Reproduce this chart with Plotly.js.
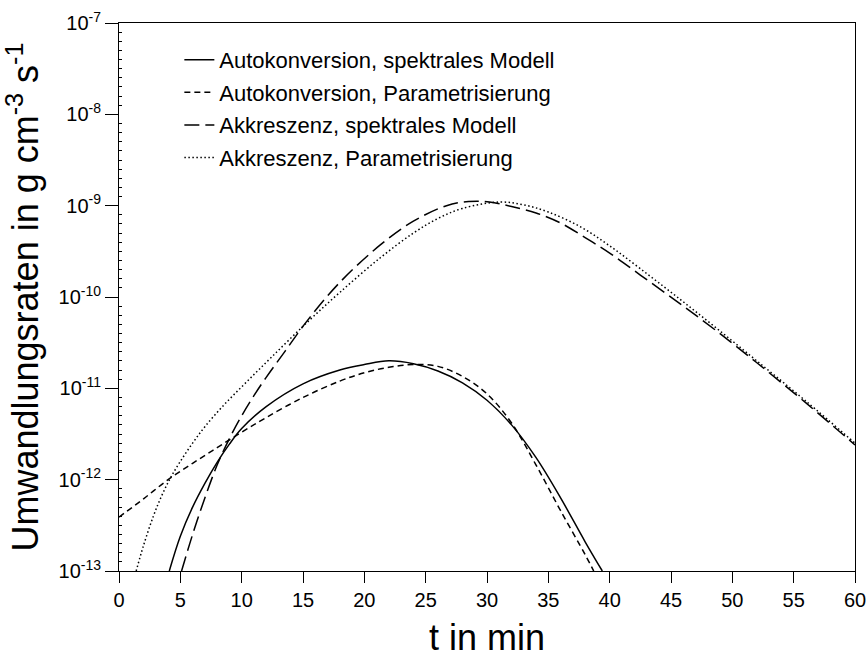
<!DOCTYPE html>
<html>
<head>
<meta charset="utf-8">
<script src="https://cdn.plot.ly/plotly-3.0.1.min.js"></script>
<style>html,body{margin:0;padding:0;background:#fff;}#chart{width:868px;height:664px;}</style>
</head>
<body>
<div id="chart"></div>
<script>
// Series names (legend labels)
const seriesNames = [
  "Autokonversion, spektrales Modell",
  "Autokonversion, Parametrisierung",
  "Akkreszenz, spektrales Modell",
  "Akkreszenz, Parametrisierung"
];

// Autokonversion, spektrales Modell (solid)
const autoSpecT = [4.1, 5, 6, 7, 8, 9, 10, 12, 15, 18, 20, 22, 24, 26, 28, 30, 32, 34, 36, 38, 39.4];
const autoSpecV = [1.0e-13, 2.40e-13, 5.01e-13, 9.12e-13, 1.55e-12, 2.45e-12, 3.63e-12, 6.31e-12, 1.12e-11, 1.585e-11, 1.82e-11, 2.0e-11, 1.86e-11, 1.55e-11, 1.15e-11, 7.41e-12, 3.98e-12, 1.74e-12, 6.31e-13, 2.09e-13, 1.0e-13];

// Autokonversion, Parametrisierung (short dash)
const autoParT = [0, 2, 4, 6, 8, 10, 12, 15, 18, 20, 22, 24, 26, 28, 30, 32, 34, 36, 38, 38.7];
const autoParV = [3.89e-13, 6.17e-13, 1.0e-12, 1.51e-12, 2.24e-12, 3.31e-12, 4.79e-12, 7.94e-12, 1.20e-11, 1.48e-11, 1.70e-11, 1.82e-11, 1.74e-11, 1.35e-11, 8.71e-12, 4.17e-12, 1.445e-12, 4.57e-13, 1.51e-13, 1.0e-13];

// Akkreszenz, spektrales Modell (long dash)
const akkSpecT = [5.1, 6, 7, 8, 9, 10, 11, 12, 13.5, 15.4, 18, 21.3, 24, 26.7, 28.5, 30.2, 32, 34, 36, 38, 40, 42.5, 45.5, 48.6, 52, 56, 60];
const akkSpecV = [1.0e-13, 2.51e-13, 6.31e-13, 1.445e-12, 2.82e-12, 5.01e-12, 8.32e-12, 1.318e-11, 2.51e-11, 5.62e-11, 1.445e-10, 3.715e-10, 6.76e-10, 1.0e-9, 1.11e-9, 1.10e-9, 9.77e-10, 8.32e-10, 6.46e-10, 4.47e-10, 3.02e-10, 1.74e-10, 8.91e-11, 4.365e-11, 1.905e-11, 6.92e-12, 2.40e-12];

// Akkreszenz, Parametrisierung (dotted)
const akkParT = [1.4, 2.0, 2.8, 3.5, 4.2, 5.0, 6.0, 7.0, 8.5, 10.4, 12.5, 15.4, 18, 21.3, 24, 26, 28, 31, 33, 35, 37.6, 40, 42.5, 45.5, 48.6, 52, 56, 60];
const akkParV = [1.0e-13, 1.905e-13, 3.98e-13, 6.76e-13, 1.047e-12, 1.585e-12, 2.51e-12, 3.80e-12, 6.46e-12, 1.175e-11, 2.24e-11, 5.37e-11, 1.122e-10, 2.69e-10, 5.01e-10, 7.24e-10, 9.33e-10, 1.096e-9, 1.02e-9, 8.51e-10, 5.89e-10, 3.63e-10, 2.04e-10, 1.0e-10, 4.68e-11, 1.995e-11, 7.24e-12, 2.51e-12];

// Axis ticks
const xTicks = [0, 5, 10, 15, 20, 25, 30, 35, 40, 45, 50, 55, 60];
const yTickVals = [1e-13, 1e-12, 1e-11, 1e-10, 1e-9, 1e-8, 1e-7];
const yTickText = ["10<sup>-13</sup>", "10<sup>-12</sup>", "10<sup>-11</sup>", "10<sup>-10</sup>", "10<sup>-9</sup>", "10<sup>-8</sup>", "10<sup>-7</sup>"];

const minorVals = [];
for (let k = 0; k <= 60; k++) { if (k % 10 !== 0) minorVals.push(Math.pow(10, -13 + k / 10)); }

const FONT = "'Liberation Sans', Arial, sans-serif";
function tr(x, y, name, dash, grp) {
  return {
    x: x, y: y, name: name, type: "scatter", mode: "lines",
    legendgroup: grp,
    line: {color: "#000", width: 1.5, dash: dash, shape: "spline", smoothing: 1}
  };
}

const data = [
  tr(autoSpecT, autoSpecV, seriesNames[0], "solid", "g1"),
  tr(autoParT, autoParV, seriesNames[1], "6px,4px", "g2"),
  tr(akkSpecT, akkSpecV, seriesNames[2], "15px,6px", "g3"),
  tr(akkParT, akkParV, seriesNames[3], "1.5px,2.5px", "g4")
];

const layout = {
  width: 868, height: 664,
  margin: {l: 119, r: 13, t: 23, b: 93},
  paper_bgcolor: "#fff", plot_bgcolor: "#fff",
  font: {family: FONT, color: "#000", size: 20},
  showlegend: true,
  legend: {
    x: 0.082, y: 0.971, xanchor: "left", yanchor: "top",
    bgcolor: "rgba(0,0,0,0)", borderwidth: 0,
    font: {family: FONT, size: 22, color: "#000"},
    tracegroupgap: 1
  },
  xaxis: {
    range: [0, 60], tickmode: "array", tickvals: xTicks,
    ticks: "outside", ticklen: 11, tickwidth: 1, tickcolor: "#000",
    showline: true, linecolor: "#000", linewidth: 1, mirror: true,
    showgrid: false, zeroline: false,
    tickfont: {family: FONT, size: 20, color: "#000"},
    title: {text: "t in min", font: {family: FONT, size: 36, color: "#000"}, standoff: 14}
  },
  yaxis: {
    type: "log", range: [-13, -7], tickmode: "array", tickvals: yTickVals, ticktext: yTickText,
    ticks: "outside", ticklen: 13, tickwidth: 1, tickcolor: "#000",
    showline: true, linecolor: "#000", linewidth: 1, mirror: true,
    showgrid: false, zeroline: false,
    tickfont: {family: FONT, size: 20, color: "#000"},
    minor: {tickmode: "array", tickvals: minorVals, ticks: "inside", ticklen: 3, tickwidth: 1, tickcolor: "#000", showgrid: false},
    title: {text: "Umwandlungsraten in g cm<sup>-3</sup> s<sup>-1</sup>", font: {family: FONT, size: 36, color: "#000"}, standoff: 12}
  }
};

Plotly.newPlot("chart", data, layout, {displayModeBar: false, staticPlot: true});
</script>
</body>
</html>
